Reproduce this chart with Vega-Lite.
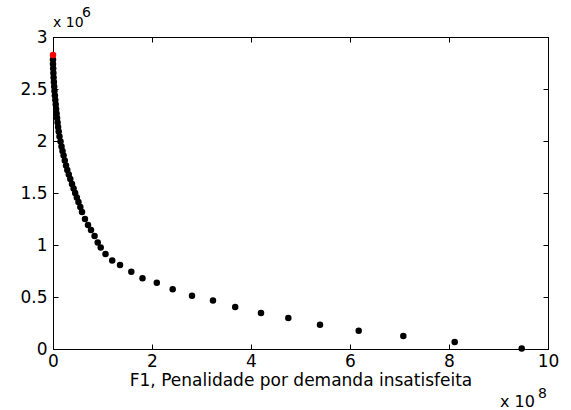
{
  "$schema": "https://vega.github.io/schema/vega-lite/v6.json",
  "autosize": "none",
  "width": 495,
  "height": 312,
  "padding": {"left": 53, "top": 37, "right": 23, "bottom": 61},
  "background": "white",
  "config": {
    "font": "DejaVu Sans",
    "view": {"stroke": "black", "strokeWidth": 1},
    "axis": {
      "grid": false,
      "domainColor": "black",
      "domainWidth": 1,
      "tickColor": "black",
      "tickSize": -5,
      "tickWidth": 1,
      "labelColor": "black",
      "labelFont": "DejaVu Sans",
      "labelFontSize": 17,
      "labelPadding": 9,
      "labelFlush": false,
      "labelOverlap": false,
      "titleColor": "black",
      "titleFont": "DejaVu Sans",
      "titleFontSize": 17,
      "titleFontWeight": "normal"
    }
  },
  "datasets": {
    "pts": [
      {"F1": 0.0, "F2": 2784000, "grupo": "demais"},
      {"F1": 0.0, "F2": 2740000, "grupo": "demais"},
      {"F1": 400000, "F2": 2697000, "grupo": "demais"},
      {"F1": 800000, "F2": 2654000, "grupo": "demais"},
      {"F1": 1200000, "F2": 2611000, "grupo": "demais"},
      {"F1": 1800000, "F2": 2567000, "grupo": "demais"},
      {"F1": 2400000, "F2": 2524000, "grupo": "demais"},
      {"F1": 3000000, "F2": 2481000, "grupo": "demais"},
      {"F1": 3800000, "F2": 2438000, "grupo": "demais"},
      {"F1": 4600000, "F2": 2394000, "grupo": "demais"},
      {"F1": 5500000, "F2": 2351000, "grupo": "demais"},
      {"F1": 6300000, "F2": 2308000, "grupo": "demais"},
      {"F1": 7300000, "F2": 2264000, "grupo": "demais"},
      {"F1": 8300000, "F2": 2221000, "grupo": "demais"},
      {"F1": 9300000, "F2": 2178000, "grupo": "demais"},
      {"F1": 10300000, "F2": 2135000, "grupo": "demais"},
      {"F1": 11500000, "F2": 2091000, "grupo": "demais"},
      {"F1": 13100000, "F2": 2043000, "grupo": "demais"},
      {"F1": 15200000, "F2": 1995000, "grupo": "demais"},
      {"F1": 17200000, "F2": 1947000, "grupo": "demais"},
      {"F1": 19200000, "F2": 1904000, "grupo": "demais"},
      {"F1": 21400000, "F2": 1861000, "grupo": "demais"},
      {"F1": 23800000, "F2": 1813000, "grupo": "demais"},
      {"F1": 26300000, "F2": 1764000, "grupo": "demais"},
      {"F1": 28900000, "F2": 1721000, "grupo": "demais"},
      {"F1": 31900000, "F2": 1678000, "grupo": "demais"},
      {"F1": 34900000, "F2": 1635000, "grupo": "demais"},
      {"F1": 38400000, "F2": 1587000, "grupo": "demais"},
      {"F1": 41600000, "F2": 1543000, "grupo": "demais"},
      {"F1": 44800000, "F2": 1500000, "grupo": "demais"},
      {"F1": 48100000, "F2": 1457000, "grupo": "demais"},
      {"F1": 51500000, "F2": 1413000, "grupo": "demais"},
      {"F1": 55200000, "F2": 1365000, "grupo": "demais"},
      {"F1": 58600000, "F2": 1317000, "grupo": "demais"},
      {"F1": 64600000, "F2": 1250000, "grupo": "demais"},
      {"F1": 70700000, "F2": 1192000, "grupo": "demais"},
      {"F1": 76800000, "F2": 1144000, "grupo": "demais"},
      {"F1": 84000000, "F2": 1087000, "grupo": "demais"},
      {"F1": 90300000, "F2": 1024000, "grupo": "demais"},
      {"F1": 96400000, "F2": 976000, "grupo": "demais"},
      {"F1": 106100000, "F2": 913000, "grupo": "demais"},
      {"F1": 119600000, "F2": 851000, "grupo": "demais"},
      {"F1": 135400000, "F2": 808000, "grupo": "demais"},
      {"F1": 158200000, "F2": 743000, "grupo": "demais"},
      {"F1": 180800000, "F2": 680000, "grupo": "demais"},
      {"F1": 209700000, "F2": 638000, "grupo": "demais"},
      {"F1": 241800000, "F2": 574000, "grupo": "demais"},
      {"F1": 280800000, "F2": 513000, "grupo": "demais"},
      {"F1": 323200000, "F2": 466000, "grupo": "demais"},
      {"F1": 368100000, "F2": 404000, "grupo": "demais"},
      {"F1": 420200000, "F2": 346000, "grupo": "demais"},
      {"F1": 475400000, "F2": 298000, "grupo": "demais"},
      {"F1": 539400000, "F2": 234000, "grupo": "demais"},
      {"F1": 617600000, "F2": 176000, "grupo": "demais"},
      {"F1": 707700000, "F2": 125000, "grupo": "demais"},
      {"F1": 811500000, "F2": 67000, "grupo": "demais"},
      {"F1": 946900000, "F2": 5000, "grupo": "demais"},
      {"F1": 0.0, "F2": 2827000, "grupo": "inicial"}
    ]
  },
  "layer": [
    {
      "data": {"name": "pts"},
      "mark": {"type": "circle", "size": 42, "opacity": 1},
      "encoding": {
        "x": {
          "field": "F1", "type": "quantitative",
          "scale": {"domain": [0, 1000000000], "nice": false, "zero": false},
          "axis": {
            "orient": "bottom",
            "values": [0, 200000000, 400000000, 600000000, 800000000, 1000000000],
            "labelExpr": "format(datum.value / 100000000, '~g')",
            "title": "F1, Penalidade por demanda insatisfeita",
            "titlePadding": 3
          }
        },
        "y": {
          "field": "F2", "type": "quantitative",
          "scale": {"domain": [0, 3000000], "nice": false, "zero": false},
          "axis": {
            "orient": "left",
            "values": [0, 500000, 1000000, 1500000, 2000000, 2500000, 3000000],
            "labelExpr": "format(datum.value / 1000000, '~g')",
            "labelPadding": 11,
            "title": null
          }
        },
        "color": {
          "field": "grupo", "type": "nominal",
          "scale": {"domain": ["inicial", "demais"], "range": ["#ff0000", "#000000"]},
          "legend": null
        }
      }
    },
    {
      "data": {"name": "pts"},
      "mark": {"type": "circle", "size": 42, "opacity": 0},
      "encoding": {
        "x": {
          "field": "F1", "type": "quantitative",
          "scale": {"domain": [0, 1000000000], "nice": false, "zero": false},
          "axis": {
            "orient": "top",
            "values": [0, 200000000, 400000000, 600000000, 800000000, 1000000000],
            "labels": false,
            "title": null
          }
        },
        "y": {
          "field": "F2", "type": "quantitative",
          "scale": {"domain": [0, 3000000], "nice": false, "zero": false},
          "axis": {
            "orient": "right",
            "values": [0, 500000, 1000000, 1500000, 2000000, 2500000, 3000000],
            "labels": false,
            "title": null
          }
        }
      }
    },
    {
      "data": {"values": [{}]},
      "mark": {"type": "text", "text": "x 10", "align": "left", "baseline": "alphabetic", "fontSize": 14, "color": "black", "dx": 0, "dy": -10},
      "encoding": {
        "x": {"datum": 0, "type": "quantitative", "axis": null},
        "y": {"datum": 3000000, "type": "quantitative", "axis": null}
      }
    },
    {
      "data": {"values": [{}]},
      "mark": {"type": "text", "text": "6", "align": "left", "baseline": "alphabetic", "fontSize": 14, "color": "black", "dx": 29, "dy": -20},
      "encoding": {
        "x": {"datum": 0, "type": "quantitative", "axis": null},
        "y": {"datum": 3000000, "type": "quantitative", "axis": null}
      }
    },
    {
      "data": {"values": [{}]},
      "mark": {"type": "text", "text": "x 10", "align": "left", "baseline": "alphabetic", "fontSize": 16, "color": "black", "dx": -48, "dy": 58},
      "encoding": {
        "x": {"datum": 1000000000, "type": "quantitative", "axis": null},
        "y": {"datum": 0, "type": "quantitative", "axis": null}
      }
    },
    {
      "data": {"values": [{}]},
      "mark": {"type": "text", "text": "8", "align": "left", "baseline": "alphabetic", "fontSize": 14, "color": "black", "dx": -10, "dy": 49},
      "encoding": {
        "x": {"datum": 1000000000, "type": "quantitative", "axis": null},
        "y": {"datum": 0, "type": "quantitative", "axis": null}
      }
    }
  ],
  "resolve": {"axis": {"x": "independent", "y": "independent"}}
}
